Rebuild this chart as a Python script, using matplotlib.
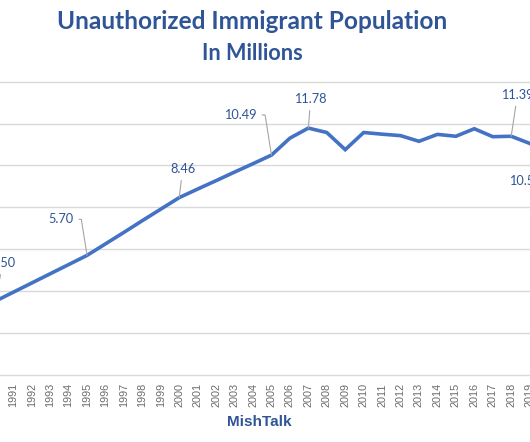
import matplotlib
matplotlib.use("Agg")
import matplotlib.pyplot as plt

# unauthorized immigrant population, millions
years = list(range(1990, 2021))
values = [3.50, 3.94, 4.38, 4.82, 5.26, 5.70, 6.25, 6.80, 7.36, 7.91,
          8.46, 8.87, 9.27, 9.68, 10.08, 10.49, 11.30, 11.78, 11.57, 10.75,
          11.57, 11.49, 11.42, 11.15, 11.48, 11.39, 11.75, 11.37, 11.39, 11.05,
          10.52]

# which points carry a data label
labelled_years = [1990, 1995, 2000, 2005, 2007, 2018, 2020]

BLUE_TEXT = "#2F5597"
LINE_BLUE = "#4472C4"
GRID = "#D9D9D9"
LEADER = "#A6A6A6"

fig = plt.figure(figsize=(5.3, 4.42), dpi=100)
fig.patch.set_facecolor("white")

# plot area is cropped on both sides in the reference
ax = fig.add_axes([0.0, 0.1523, 1.0, 0.663])
ax.plot(years, values, color=LINE_BLUE, lw=2.6, solid_joinstyle="miter",
        solid_capstyle="butt", zorder=3)

ax.set_xticks(years)
ax.set_xticklabels([str(y) for y in years], rotation=90, fontsize=7.8,
                   color="#6B6B6B", family="Liberation Sans")
ax.set_xlim(1990.28, 2019.02)
ax.set_ylim(0, 14)
ax.set_yticks(range(0, 15, 2))
ax.set_yticklabels([])
ax.grid(axis="y", color=GRID, lw=1.0)
for gl in ax.get_ygridlines():
    gl.set_clip_on(False)
ax.set_axisbelow(True)
for s in ax.spines.values():
    s.set_visible(False)

ax.tick_params(axis="x", length=0, pad=6)
ax.tick_params(axis="y", length=0)

# label offsets in points: (dx, dy, connection)
offsets = {
    1990: (5.9, 27.5, "arc3"),
    1995: (-18.7, 25.9, "angle,angleA=0,angleB=99,rad=0"),
    2000: (2.4, 20.7, "arc3"),
    2005: (-22.5, 28.9, "angle,angleA=0,angleB=99,rad=0"),
    2007: (1.7, 20.9, "arc3"),
    2018: (4.5, 29.9, "arc3"),
    2020: (-16.3, -18.9, "arc3"),
}
for yr in labelled_years:
    v = values[years.index(yr)]
    dx, dy, cs = offsets[yr]
    rel = (1, 0.5) if cs.startswith("angle") else (0.5, 0.5)
    ax.annotate(f"{v:.2f}", xy=(yr, v), xytext=(dx, dy),
                textcoords="offset points", ha="center", va="center",
                fontsize=9.2, color=BLUE_TEXT, family="Lato",
                annotation_clip=False,
                arrowprops=dict(arrowstyle="-", color=LEADER, lw=0.8,
                                connectionstyle=cs, relpos=rel,
                                shrinkA=2, shrinkB=0))

fig.text(0.476, 0.951, "Unauthorized Immigrant Population", ha="center",
         va="center", fontsize=17.6, fontweight="bold", color=BLUE_TEXT,
         family="Lato")
fig.text(0.476, 0.878, "In Millions", ha="center", va="center",
         fontsize=15.6, fontweight="bold", color=BLUE_TEXT, family="Lato")
fig.text(0.49, 0.045, "MishTalk", ha="center", va="center", fontsize=11,
         fontweight="bold", color=BLUE_TEXT, family="Liberation Sans")

fig.savefig("out.png", dpi=100, facecolor="white")
